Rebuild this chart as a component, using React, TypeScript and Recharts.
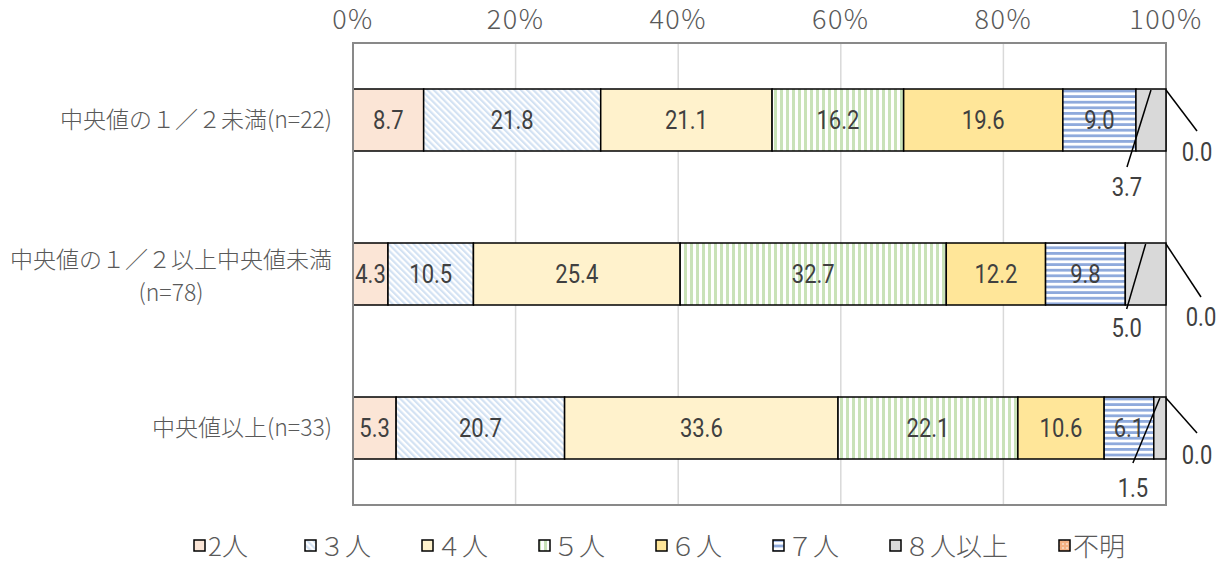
import React from 'react';
import { BarChart, Bar, XAxis, YAxis, CartesianGrid, LabelList, ReferenceArea } from 'recharts';

const categories = ['中央値の１／２未満(n=22)', '中央値の１／２以上中央値未満(n=78)', '中央値以上(n=33)'];
const seriesNames = ['2人', '３人', '４人', '５人', '６人', '７人', '８人以上', '不明'];
const persons2 = [8.7, 4.3, 5.3];
const persons3 = [21.8, 10.5, 20.7];
const persons4 = [21.1, 25.4, 33.6];
const persons5 = [16.2, 32.7, 22.1];
const persons6 = [19.6, 12.2, 10.6];
const persons7 = [9.0, 9.8, 6.1];
const persons8plus = [3.7, 5.0, 1.5];
const unknown = [0.0, 0.0, 0.0];
const xTicks = [0, 0.2, 0.4, 0.6, 0.8, 1];
const xTickLabels = ['0%', '20%', '40%', '60%', '80%', '100%'];

const seriesValues = [persons2, persons3, persons4, persons5, persons6, persons7, persons8plus, unknown];
const fills = ['#FBE5D6', 'url(#pat3)', '#FFF2CC', 'url(#pat5)', '#FFE699', 'url(#pat7)', '#D9D9D9', 'url(#patU)'];

const data = categories.map((name, i) => {
  const row: any = { name };
  seriesValues.forEach((arr, s) => { row['s' + s] = arr[i]; });
  return row;
});

const JP = '"Noto Sans CJK JP", "Noto Sans", sans-serif';
const NUM = 'Roboto, "Liberation Sans", sans-serif';
const TXT = '#595959';
const LBL = '#404040';

// leader-line layout offsets (styling only)
const lead8 = [{ dx: -24, dy: 16, ly: 36 }, { dx: -19, dy: 4, ly: 23 }, { dx: -27, dy: 4, ly: 29 }];
const leadU = [{ dx: 31, dy: 42, ly: 63 }, { dx: 35, dy: 54, ly: 74 }, { dx: 31, dy: 36, ly: 58 }];

const Patterns = () => (
  <svg width={0} height={0} style={{ position: 'absolute' }}>
    <defs>
      <pattern id="pat3" patternUnits="userSpaceOnUse" width={4.4} height={4.4} patternTransform="rotate(-45)">
        <rect width={4.4} height={4.4} fill="#FFFFFF" />
        <rect width={2.2} height={4.4} fill="#D3E2F3" />
      </pattern>
      <pattern id="pat5" patternUnits="userSpaceOnUse" width={6} height={6}>
        <rect width={6} height={6} fill="#FFFFFF" />
        <rect width={3} height={6} fill="#C9E2B8" />
      </pattern>
      <pattern id="pat7" patternUnits="userSpaceOnUse" width={6} height={5.6}>
        <rect width={6} height={5.6} fill="#FFFFFF" />
        <rect width={6} height={2.8} fill="#8FAADC" />
      </pattern>
      <pattern id="patU" patternUnits="userSpaceOnUse" width={4} height={4}>
        <rect width={4} height={4} fill="#F4B183" />
        <circle cx={1} cy={1} r={0.8} fill="#FFFFFF" />
      </pattern>
    </defs>
  </svg>
);

const NumText = ({ x, y, children }: { x: number; y: number; children: any }) => (
  <text
    transform={`translate(${x},${y}) scale(0.88,1)`}
    x={0}
    y={0}
    textAnchor="middle"
    fill={LBL}
    fontSize={25}
    fontFamily={NUM}
  >
    {children}
  </text>
);

const XTick = (props: any) => {
  const { x, payload, index } = props;
  return (
    <text x={x} y={29} textAnchor="middle" fill={TXT} fontSize={27} fontWeight={300} letterSpacing={1.5} fontFamily={JP}>
      {xTickLabels[index] ?? payload.value}
    </text>
  );
};

const YTick = (props: any) => {
  const { y, payload } = props;
  const label: string = payload.value;
  const xr = 332;
  const fs = 23;
  if (label.length > 16) {
    const idx = label.indexOf('(');
    const l1 = label.slice(0, idx);
    const l2 = label.slice(idx);
    const cx = xr - (l1.length * fs) / 2;
    return (
      <g>
        <text x={xr} y={y - 6} textAnchor="end" fill={TXT} fontSize={fs} fontWeight={300} fontFamily={JP}>{l1}</text>
        <text x={cx} y={y + 27} textAnchor="middle" fill={TXT} fontSize={fs} fontWeight={300} fontFamily={JP}>{l2}</text>
      </g>
    );
  }
  return (
    <text x={xr} y={y + 8} textAnchor="end" fill={TXT} fontSize={fs} fontWeight={300} fontFamily={JP}>{label}</text>
  );
};

const makeInnerLabel = (s: number) => (props: any) => {
  const { x, y, width, height, index } = props;
  const v = seriesValues[s][index];
  if (v === undefined) return null;
  return <NumText x={x + width / 2} y={y + height / 2 + 9}>{v.toFixed(1)}</NumText>;
};

// label for "8人以上" (inside segment) and the zero-width "不明" segment that follows it
const tailLabels = (props: any) => {
  const { x, y, width, height, index } = props;
  const v8 = persons8plus[index];
  const vu = unknown[index];
  const o8 = lead8[index];
  const ou = leadU[index];
  if (v8 === undefined || !o8 || !ou) return null;
  const sx = x + width / 2;
  const ex = sx + o8.dx;
  const ey = y + height + o8.dy;
  const ux = x + width; // start of the "不明" segment
  return (
    <g>
      <line x1={sx} y1={y + 1} x2={ex} y2={ey} stroke="#000" strokeWidth={1.5} />
      <NumText x={ex} y={y + height + o8.ly + 9}>{v8.toFixed(1)}</NumText>
      <line x1={ux} y1={y + 1} x2={ux + ou.dx} y2={y + ou.dy} stroke="#000" strokeWidth={1.5} />
      <NumText x={ux + ou.dx} y={y + ou.ly + 9}>{vu.toFixed(1)}</NumText>
    </g>
  );
};

const Legend = () => (
  <div style={{ position: 'absolute', left: 193, top: 527, display: 'flex', alignItems: 'center', whiteSpace: 'nowrap' }}>
    {seriesNames.map((n, i) => (
      <div key={n} style={{ display: 'flex', alignItems: 'center', marginRight: i === 0 ? 56 : 50 }}>
        <svg width={13} height={13} style={{ display: 'block' }}>
          <rect x={1} y={1} width={11} height={11} fill={fills[i]} stroke="#000" strokeWidth={1.5} />
        </svg>
        <span style={{ fontFamily: JP, fontSize: 26, fontWeight: 300, color: TXT, marginLeft: 2, lineHeight: '36px' }}>{n}</span>
      </div>
    ))}
  </div>
);

export default function App() {
  return (
    <div style={{ position: 'absolute', left: 0, top: 0, width: 1223, height: 564, background: '#fff' }}>
      <Patterns />
      <BarChart
        width={1223}
        height={564}
        data={data}
        layout="vertical"
        stackOffset="expand"
        barSize={62}
        margin={{ top: 0, right: 57, bottom: 59, left: 0 }}
      >
        <CartesianGrid horizontal={false} vertical stroke="#D9D9D9" strokeWidth={1.5} />
        <XAxis
          type="number"
          orientation="top"
          domain={[0, 1]}
          ticks={xTicks}
          height={43}
          tick={<XTick />}
          tickLine={false}
          axisLine={{ stroke: '#898989', strokeWidth: 2 }}
          interval={0}
        />
        <YAxis
          type="category"
          dataKey="name"
          width={353}
          tick={<YTick />}
          tickLine={false}
          axisLine={{ stroke: '#898989', strokeWidth: 2 }}
          interval={0}
        />
        <ReferenceArea x1={0} x2={1} fill="none" stroke="#898989" strokeWidth={2} ifOverflow="visible" />
        {seriesNames.map((n, s) => (
          <Bar
            key={n}
            dataKey={'s' + s}
            name={n}
            stackId="a"
            fill={fills[s]}
            stroke="#000"
            strokeWidth={1.5}
            isAnimationActive={false}
          >
            {s < 6 && <LabelList dataKey={'s' + s} content={makeInnerLabel(s)} />}
            {s === 6 && <LabelList dataKey={'s' + s} content={tailLabels} />}
          </Bar>
        ))}
      </BarChart>
      <Legend />
    </div>
  );
}
